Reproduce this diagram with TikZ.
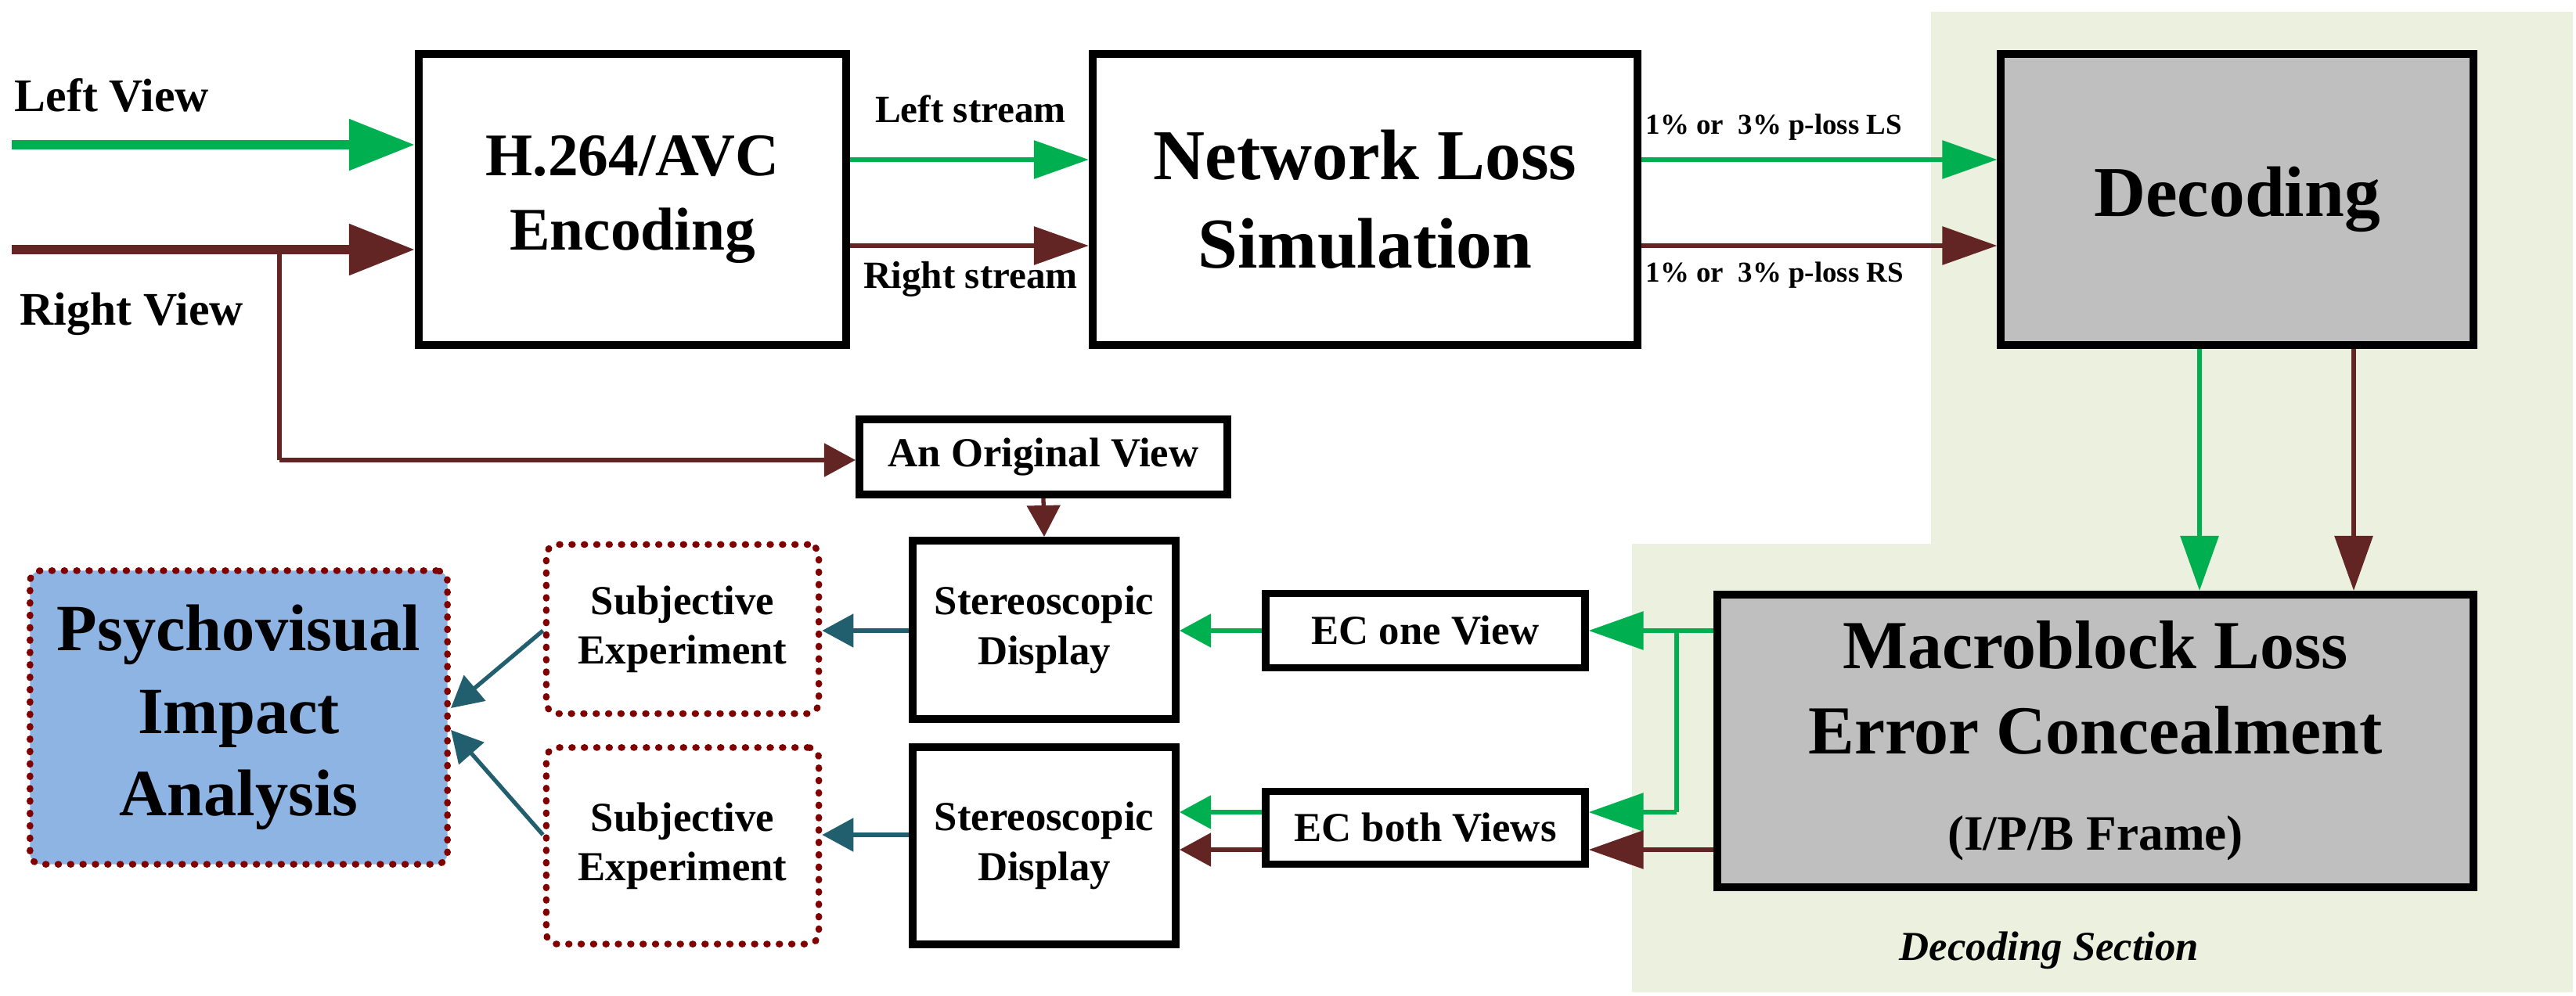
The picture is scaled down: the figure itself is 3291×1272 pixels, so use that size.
\documentclass[tikz,border=0pt]{standalone}
\usepackage{fontspec}
\setmainfont{Liberation Serif}
\usetikzlibrary{arrows.meta}
\definecolor{gr}{HTML}{00B050}
\definecolor{rb}{HTML}{632523}
\definecolor{tl}{HTML}{215E6E}
\definecolor{dr}{HTML}{800000}
\definecolor{bl}{HTML}{8EB4E3}
\definecolor{gy}{HTML}{BFBFBF}
\definecolor{band}{HTML}{EBF1DE}
\begin{document}
\begin{tikzpicture}[x={(0.01cm,0)},y={(0,-0.01cm)},
  box/.style={draw=black,line width=2.8pt,fill=white,align=center,inner sep=0pt,font=\bfseries},
  dbox/.style={draw=dr,line width=2.4pt,dash pattern=on 0.3pt off 4.2pt,line cap=round,rounded corners=4pt,align=center,inner sep=0pt,font=\bfseries},
  big/.style={line width=3.4pt,-{Triangle[length=0.84cm,width=0.63cm]}},
  mid/.style={line width=1.7pt,-{Triangle[length=0.7cm,width=0.48cm]}},
  sm/.style={line width=1.5pt,-{Triangle[length=0.4cm,width=0.42cm]}},
  lbl/.style={font=\bfseries,inner sep=0pt}]
\useasboundingbox (0,0) rectangle (3291,1272);
\fill[band] (2467,15) -- (3287,15) -- (3287,1268) -- (2085,1268) -- (2085,695) -- (2467,695) -- cycle;
\node[box,minimum width=5.46cm,minimum height=3.72cm,font=\bfseries\fontsize{22}{27}\selectfont] (h264) at (808,255) {H.264/AVC\\Encoding};
\node[box,minimum width=6.96cm,minimum height=3.72cm,font=\bfseries\fontsize{26}{32}\selectfont] (net) at (1744,255) {Network Loss\\Simulation};
\node[box,fill=gy,minimum width=6.03cm,minimum height=3.72cm,font=\bfseries\fontsize{26}{32}\selectfont] (dec) at (2858,255) {Decoding};
\node[box,fill=gy,minimum width=9.65cm,minimum height=3.74cm,font=\bfseries\fontsize{25}{31}\selectfont] (mac) at (2677,947) {Macroblock Loss\\Error Concealment\\[4pt]{\fontsize{18}{22}\selectfont (I/P/B Frame)}};
\node[box,minimum width=4.70cm,minimum height=0.96cm,font=\bfseries\fontsize{15}{18}\selectfont] (orig) at (1333,584) {An Original View};
\node[box,minimum width=3.36cm,minimum height=2.28cm,font=\bfseries\fontsize{15}{18}\selectfont] (st1) at (1334,805) {Stereoscopic\\Display};
\node[box,minimum width=3.36cm,minimum height=2.52cm,font=\bfseries\fontsize{15}{18}\selectfont] (st2) at (1334,1081) {Stereoscopic\\Display};
\node[box,minimum width=4.07cm,minimum height=0.95cm,font=\bfseries\fontsize{15}{18}\selectfont] (ec1) at (1821,806) {EC one View};
\node[box,minimum width=4.07cm,minimum height=0.93cm,font=\bfseries\fontsize{15}{18}\selectfont] (ec2) at (1821,1058) {EC both Views};
\node[dbox,minimum width=3.48cm,minimum height=2.16cm,font=\bfseries\fontsize{15}{18}\selectfont] (sub1) at (872,804) {Subjective\\Experiment};
\node[dbox,minimum width=3.48cm,minimum height=2.51cm,font=\bfseries\fontsize{15}{18}\selectfont] (sub2) at (872,1081) {Subjective\\Experiment};
\node[dbox,fill=bl,minimum width=5.33cm,minimum height=3.75cm,font=\bfseries\fontsize{24}{30}\selectfont] (psy) at (305,917) {Psychovisual\\Impact\\Analysis};
% coordinates
\coordinate (lv) at (15,185);
\coordinate (rv) at (15,319);
\coordinate (br) at (357,319);
\coordinate (bb) at (357,588);
\coordinate (yls) at (0,204);
\coordinate (yrs) at (0,314);
\coordinate (xg) at (2810,0);
\coordinate (xr) at (3007,0);
\coordinate (yg2) at (0,1038);
\coordinate (yr2) at (0,1086);
\coordinate (vx) at (2142,806);
\coordinate (vy) at (2142,1038);
\coordinate (yt2) at (0,1067);
\coordinate (p1) at (576,905);
\coordinate (p2) at (576,933);
% arrows
\draw[big,gr] (lv) -- (lv -| h264.west);
\draw[big,rb] (rv) -- (rv -| h264.west);
\draw[rb,line width=1.5pt] (br) -- (bb);
\draw[sm,rb] (bb) -- (orig.west |- bb);
\draw[mid,gr] (h264.east |- yls) -- (net.west |- yls);
\draw[mid,rb] (h264.east |- yrs) -- (net.west |- yrs);
\draw[mid,gr] (net.east |- yls) -- (dec.west |- yls);
\draw[mid,rb] (net.east |- yrs) -- (dec.west |- yrs);
\draw[mid,gr] (dec.south -| xg) -- (mac.north -| xg);
\draw[mid,rb] (dec.south -| xr) -- (mac.north -| xr);
\draw[sm,rb] (orig.south) -- (st1.north);
\draw[mid,gr] (mac.west |- ec1) -- (ec1.east);
\draw[gr,line width=1.5pt] (vx) -- (vy);
\draw[mid,gr] (vy) -- (ec2.east |- yg2);
\draw[mid,rb] (mac.west |- yr2) -- (ec2.east |- yr2);
\draw[sm,gr] (ec1.west) -- (st1.east |- ec1.west);
\draw[sm,gr] (ec2.west |- yg2) -- (st2.east |- yg2);
\draw[sm,rb] (ec2.west |- yr2) -- (st2.east |- yr2);
\draw[sm,tl] (st1.west |- ec1) -- (sub1.east |- ec1);
\draw[sm,tl] (st2.west |- yt2) -- (sub2.east |- yt2);
\draw[sm,tl] (sub1.west |- ec1) -- (p1);
\draw[sm,tl] (sub2.west |- yt2) -- (p2);
% labels
\node[lbl,anchor=west,font=\bfseries\fontsize{17}{20}\selectfont] (tlv) at (18,122) {Left View};
\node[lbl,anchor=west,font=\bfseries\fontsize{17}{20}\selectfont] (trv) at (25,401) {Right View};
\node[lbl,font=\bfseries\fontsize{14}{17}\selectfont] (tls) at (1240,139) {Left stream};
\node[lbl,font=\bfseries\fontsize{14}{17}\selectfont] (trs) at (1240,357) {Right stream};
\node[lbl,anchor=west,font=\bfseries\fontsize{10.5}{13}\selectfont] (tpl) at (2102,163) {1\% or~~3\% p-loss LS};
\node[lbl,anchor=west,font=\bfseries\fontsize{10.5}{13}\selectfont] (tpr) at (2102,352) {1\% or~~3\% p-loss RS};
\node[lbl,font=\bfseries\itshape\fontsize{15}{18}\selectfont] (tds) at (2618,1215) {Decoding Section};
\end{tikzpicture}
\end{document}
